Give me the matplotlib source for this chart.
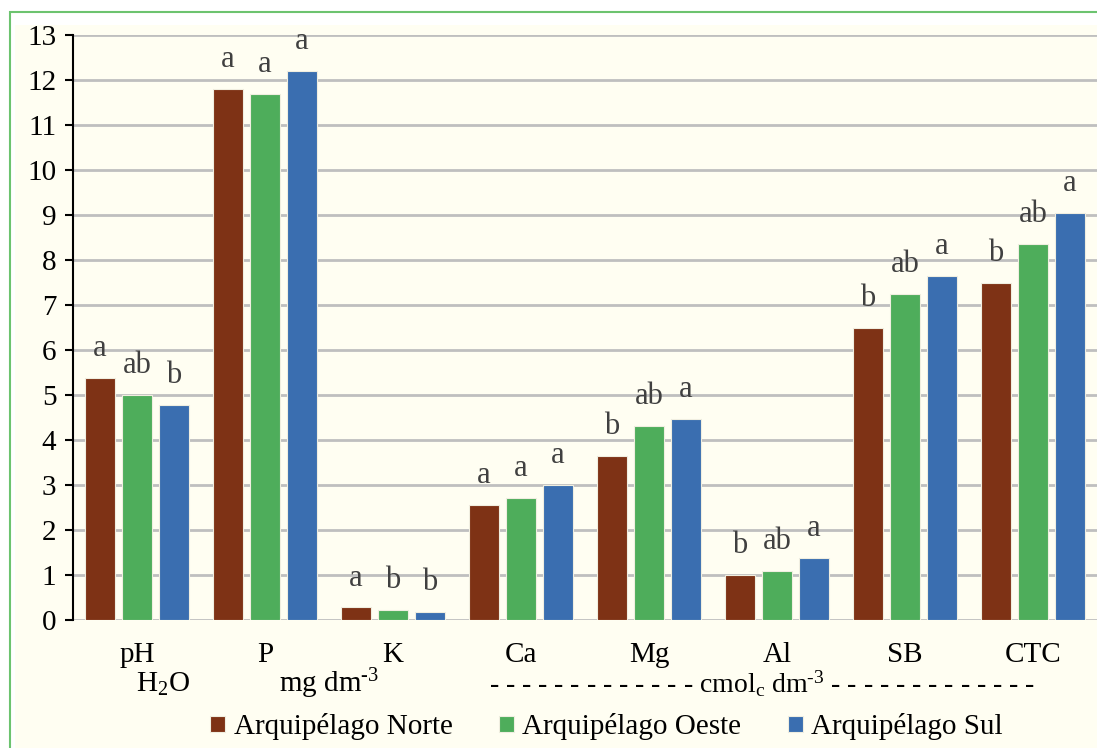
import matplotlib.pyplot as plt
import numpy as np
from matplotlib.patches import Rectangle
from matplotlib.transforms import blended_transform_factory

plt.rcParams['font.family'] = ['Liberation Serif', 'DejaVu Serif']
plt.rcParams['mathtext.fontset'] = 'custom'
plt.rcParams['mathtext.rm'] = 'Liberation Serif'
plt.rcParams['mathtext.it'] = 'Liberation Serif:italic'

categories = ['pH', 'P', 'K', 'Ca', 'Mg', 'Al', 'SB', 'CTC']
series = ['Arquipélago Norte', 'Arquipélago Oeste', 'Arquipélago Sul']
norte = [5.38, 11.8, 0.28, 2.56, 3.65, 1.0, 6.5, 7.5]
oeste = [5.0, 11.7, 0.22, 2.72, 4.31, 1.1, 7.25, 8.35]
sul = [4.78, 12.2, 0.17, 3.0, 4.47, 1.38, 7.65, 9.05]
letras_norte = ['a', 'a', 'a', 'a', 'b', 'b', 'b', 'b']
letras_oeste = ['ab', 'a', 'b', 'a', 'ab', 'ab', 'ab', 'ab']
letras_sul = ['b', 'a', 'b', 'a', 'a', 'a', 'a', 'a']
cores = ['#7E3215', '#4EAD5B', '#3A6EB0']

fundo = '#FFFEF2'
fig = plt.figure(figsize=(10.97, 7.48), dpi=100, facecolor='white')
# area do grafico com borda verde
fig.patches.append(Rectangle((15 / 1097, 0), 1, 1 - 25 / 748, transform=fig.transFigure,
                             facecolor=fundo, edgecolor='none', zorder=-2))
fig.patches.append(Rectangle((10 / 1097, -0.01), 1, 1 - 12 / 748 + 0.01, transform=fig.transFigure,
                             facecolor='none', edgecolor='#6CC36F', lw=1.5, zorder=-1))

ax = fig.add_axes([73 / 1097, 128 / 748, 1 - 73 / 1097, 585 / 748])
ax.set_facecolor(fundo)

x = np.arange(len(categories))
w = 0.242
passo = 0.289
dados = [norte, oeste, sul]
letras = [letras_norte, letras_oeste, letras_sul]
for i in range(3):
    pos = x + (i - 1) * passo
    ax.bar(pos, dados[i], width=w, color=cores[i], edgecolor='#F0EEE0', lw=0.8,
           label=series[i], zorder=3)
    for xp, v, t in zip(pos, dados[i], letras[i]):
        ax.text(xp, v + 0.33, t, ha='center', va='bottom', fontsize=22, color='#404040')

ax.set_xlim(-0.5, len(categories) - 0.5)
ax.set_ylim(0, 13)
ax.set_yticks(range(0, 14))
ax.yaxis.grid(True, color='#BFBFBF', lw=2, zorder=0)
ax.set_axisbelow(True)
for s in ['top', 'right', 'bottom']:
    ax.spines[s].set_visible(False)
ax.spines['left'].set_color('black')
ax.spines['left'].set_linewidth(1.5)
ax.tick_params(axis='y', length=6, width=1.5, labelsize=21, pad=6)
ax.tick_params(axis='x', length=0, labelsize=21, pad=16)
ax.set_xticks(x)
ax.set_xticklabels(categories)

tr = blended_transform_factory(ax.transData, fig.transFigure)
yb = 1 - 684 / 748
ax.text(0.2, yb, 'H$_2$O', transform=tr, ha='center', va='center', fontsize=21)
ax.text(1.5, yb, 'mg dm$^{\\text{-3}}$', transform=tr, ha='center', va='center', fontsize=21)
tracos = ' '.join(['-'] * 13)
ax.text(4.88, yb, tracos + ' cmol$_\\mathrm{c}$ dm$^{\\text{-3}}$ ' + tracos, transform=tr,
        ha='center', va='center', fontsize=20)

fig.legend(loc='center', bbox_to_anchor=(0.553, 1 - 727 / 748), ncol=3, frameon=False,
           fontsize=21, handlelength=0.5, handleheight=0.5, handletextpad=0.3,
           columnspacing=1.6)

fig.savefig('out.png', dpi=100, facecolor='white')
